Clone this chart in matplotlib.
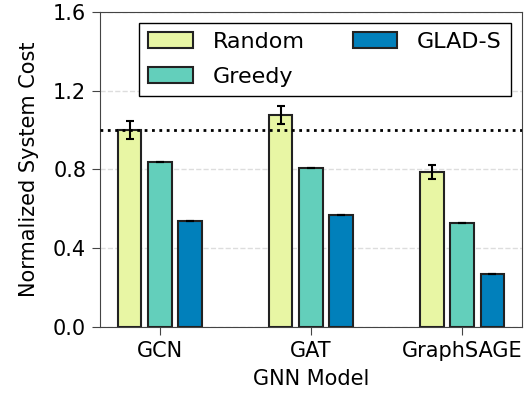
import matplotlib
matplotlib.use("Agg")
import matplotlib.pyplot as plt
import numpy as np

models = ["GCN", "GAT", "GraphSAGE"]
methods = ["Random", "Greedy", "GLAD-S"]
random_cost = [1.00, 1.077, 0.789]
random_err = [0.045, 0.045, 0.035]
greedy_cost = [0.840, 0.806, 0.530]
glad_cost = [0.538, 0.569, 0.268]
yticks = [0.0, 0.4, 0.8, 1.2, 1.6]

colors = ["#e8f6a4", "#63cfbb", "#0180bb"]

plt.rcParams["font.family"] = "DejaVu Sans"
fig = plt.figure(figsize=(5.27, 3.95), dpi=100)
ax = fig.add_axes([0.19, 0.172, 0.8, 0.798])

x = np.arange(len(models))
w = 0.155
off = 0.2
series = [random_cost, greedy_cost, glad_cost]
errs = [random_err, None, None]
for i, (vals, err, c, lab) in enumerate(zip(series, errs, colors, methods)):
    ax.bar(x + (i - 1) * off, vals, w, color=c, edgecolor="#222222",
           linewidth=1.5, label=lab, zorder=3,
           yerr=err if err is not None else [0] * len(vals),
           error_kw=dict(ecolor="black", elinewidth=1.5, capsize=3, capthick=1.5))

ax.axhline(1.0, color="black", linestyle=":", linewidth=2, zorder=4)

ax.set_ylim(0, 1.6)
ax.set_yticks(yticks)
ax.set_yticklabels([f"{v:.1f}" for v in yticks])
ax.set_xlim(-0.395, 2.395)
ax.set_xticks(x)
ax.set_xticklabels(models)
ax.tick_params(labelsize=15, length=5.5, pad=4.5, color="#444444")
ax.set_xlabel("GNN Model", fontsize=15, labelpad=6)
ax.set_ylabel("Normalized System Cost", fontsize=15, labelpad=10)
ax.yaxis.grid(True, linestyle="--", color="#dddddd", linewidth=1, zorder=0)
ax.set_axisbelow(True)
for s in ax.spines.values():
    s.set_color("#444444")

ax.legend(ncol=2, loc="upper right", fontsize=16, frameon=True, fancybox=False,
          edgecolor="black", framealpha=1, columnspacing=2.15, handlelength=2.0,
          handletextpad=0.9, labelspacing=0.68)

fig.savefig("out.png", dpi=100)
